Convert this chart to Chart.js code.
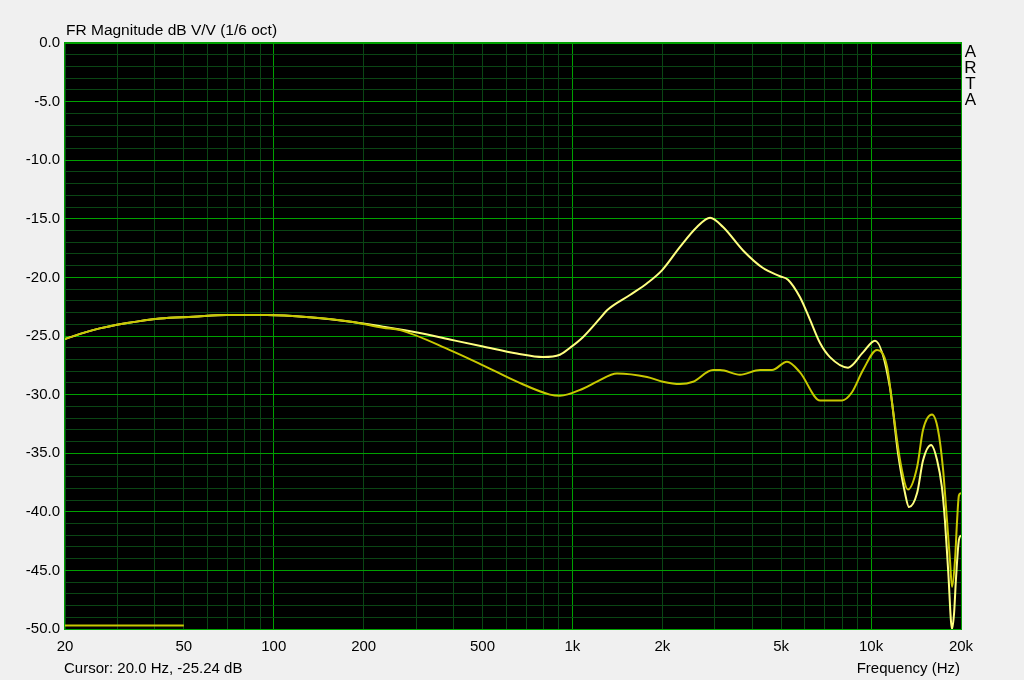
<!DOCTYPE html>
<html>
<head>
<meta charset="utf-8">
<script src="https://cdn.jsdelivr.net/npm/chart.js@4"></script>
<style>
  html, body { margin: 0; padding: 0; background: #f0f0f0; }
  #wrap { width: 1024px; height: 680px; }
</style>
</head>
<body>
<div id="wrap"><canvas id="fr" width="1024" height="680"></canvas></div>
<script>
// ── Data ──────────────────────────────────────────────────────────────────────

const freqA = [20, 24.8, 32.3, 41.6, 53.7, 69.7, 94.9, 132, 184, 232, 302, 389, 502, 652, 797, 908,
  982, 1084, 1236, 1306, 1558, 1778, 1994, 2292, 2612, 2890, 3194, 3727, 4346, 4956, 5270, 5781,
  6241, 6746, 7282, 8374, 9396, 10304, 11568, 12304, 12986, 13398, 14256, 14928, 15886, 16636,
  17260, 17662, 18114, 18666, 18968, 19232, 19680, 20000];
const dbA = [-25.25, -24.5, -23.9, -23.5, -23.35, -23.2, -23.2, -23.4, -23.8, -24.2, -24.7, -25.3, -25.9, -26.5, -26.8, -26.6,
  -26.0, -25.1, -23.5, -22.8, -21.5, -20.5, -19.4, -17.4, -15.7, -14.9, -15.7, -17.7, -19.2, -19.9, -20.2, -21.7,
  -23.6, -25.6, -26.8, -27.7, -26.4, -25.4, -29.4, -35.0, -38.4, -39.6, -38.4, -35.6, -34.3, -35.6,
  -37.9, -40.7, -45.0, -50.0, -48.6, -45.8, -42.4, -42.0];

const freqB = [20, 24.8, 32.3, 41.6, 53.7, 69.7, 94.9, 132, 184, 232, 265, 389, 502, 652, 841, 908,
  1084, 1208, 1410, 1778, 2009, 2292, 2534, 2956, 3120, 3640, 4248, 4658, 5230, 5781, 6746, 7282,
  7994, 8630, 9396, 10466, 11306, 11838, 12504, 13288, 14256, 14928, 15996, 16750, 17420, 17950,
  18366, 18666, 19100, 19410, 19680, 20000];
const dbB = [-25.25, -24.5, -23.9, -23.5, -23.35, -23.2, -23.2, -23.4, -23.8, -24.3, -24.5, -26.2, -27.5, -28.9, -30.0, -30.1,
  -29.5, -28.9, -28.2, -28.5, -28.9, -29.1, -28.9, -27.9, -27.9, -28.3, -27.9, -27.9, -27.2, -28.1, -30.5, -30.5,
  -30.5, -29.8, -27.9, -26.2, -27.6, -31.3, -35.6, -38.1, -36.2, -33.0, -31.7, -33.0, -36.4, -40.7,
  -44.1, -46.4, -44.1, -40.7, -38.6, -38.4];

// short marker line at the bottom left
const freqMark = [20, 50];
const dbMark = [-49.7, -49.7];

const freqGrid = [20, 30, 40, 50, 60, 70, 80, 90, 100, 200, 300, 400, 500, 600, 700, 800, 900,
  1000, 2000, 3000, 4000, 5000, 6000, 7000, 8000, 9000, 10000, 20000];
const freqMajor = [100, 1000, 10000];
const freqLabels = { 20: '20', 50: '50', 100: '100', 200: '200', 500: '500', 1000: '1k',
  2000: '2k', 5000: '5k', 10000: '10k', 20000: '20k' };

const GREEN_MAJOR = '#00a000';
const GREEN_MINOR = '#0a4514';
const FONT = '"Liberation Sans", Arial, sans-serif';

const pts = (fs, ds) => fs.map((f, i) => ({ x: f, y: ds[i] }));

// ── Plugins: black plot area, frame and the loose texts ──────────────────────

const artaFrame = {
  id: 'artaFrame',
  beforeDraw(chart) {
    const { ctx, chartArea: a } = chart;
    ctx.save();
    ctx.fillStyle = '#000';
    ctx.fillRect(a.left, a.top, a.right - a.left, a.bottom - a.top);
    ctx.restore();
  },
  afterDraw(chart) {
    const { ctx, chartArea: a } = chart;
    ctx.save();
    ctx.strokeStyle = GREEN_MAJOR;
    ctx.lineWidth = 1;
    ctx.strokeRect(a.left - 0.5, a.top - 0.5, a.right - a.left + 1, a.bottom - a.top + 1);

    ctx.fillStyle = '#000';
    ctx.textBaseline = 'alphabetic';
    ctx.textAlign = 'left';
    ctx.font = '15.5px ' + FONT;
    ctx.fillText('FR Magnitude dB V/V (1/6 oct)', 66, 35);
    ctx.font = '15px ' + FONT;
    ctx.fillText('Cursor: 20.0 Hz, -25.24 dB', 64, 673);
    ctx.textAlign = 'right';
    ctx.fillText('Frequency (Hz)', 960, 673);
    ctx.textAlign = 'center';
    ctx.font = '17px ' + FONT;
    ['A', 'R', 'T', 'A'].forEach((ch, i) => ctx.fillText(ch, 970.5, 57 + i * 16));
    ctx.restore();
  },
};

// ── Chart ─────────────────────────────────────────────────────────────────────

new Chart(document.getElementById('fr'), {
  type: 'line',
  data: {
    datasets: [
      { data: pts(freqMark, dbMark), borderColor: '#c8c800', borderWidth: 2, tension: 0 },
      { data: pts(freqB, dbB), borderColor: '#c8c800', borderWidth: 2, cubicInterpolationMode: 'monotone' },
      { data: pts(freqA, dbA), borderColor: '#ffff80', borderWidth: 2, cubicInterpolationMode: 'monotone' },
    ],
  },
  options: {
    responsive: false,
    animation: false,
    events: [],
    layout: { padding: { top: 43, right: 63, left: 0, bottom: 0 } },
    elements: { point: { radius: 0 } },
    plugins: { legend: { display: false }, tooltip: { enabled: false } },
    scales: {
      x: {
        type: 'logarithmic',
        min: 20,
        max: 20000,
        afterBuildTicks: s => { s.ticks = freqGrid.map(v => ({ value: v })); },
        afterFit: s => { s.height = 51; },
        grid: {
          drawTicks: false,
          color: c => freqMajor.includes(c.tick.value) ? GREEN_MAJOR : GREEN_MINOR,
        },
        border: { display: false },
        ticks: {
          autoSkip: false,
          maxRotation: 0,
          padding: 9,
          color: '#000',
          font: { family: FONT, size: 15 },
          callback: v => freqLabels[v] || '',
        },
      },
      y: {
        min: -50,
        max: 0,
        afterFit: s => { s.width = 65; },
        grid: {
          drawTicks: false,
          color: c => c.tick.value % 5 === 0 ? GREEN_MAJOR : GREEN_MINOR,
        },
        border: { display: false },
        ticks: {
          stepSize: 1,
          autoSkip: false,
          padding: 5,
          color: '#000',
          font: { family: FONT, size: 15 },
          callback: v => v % 5 === 0 ? v.toFixed(1) : '',
        },
      },
    },
  },
  plugins: [artaFrame],
});
</script>
</body>
</html>
